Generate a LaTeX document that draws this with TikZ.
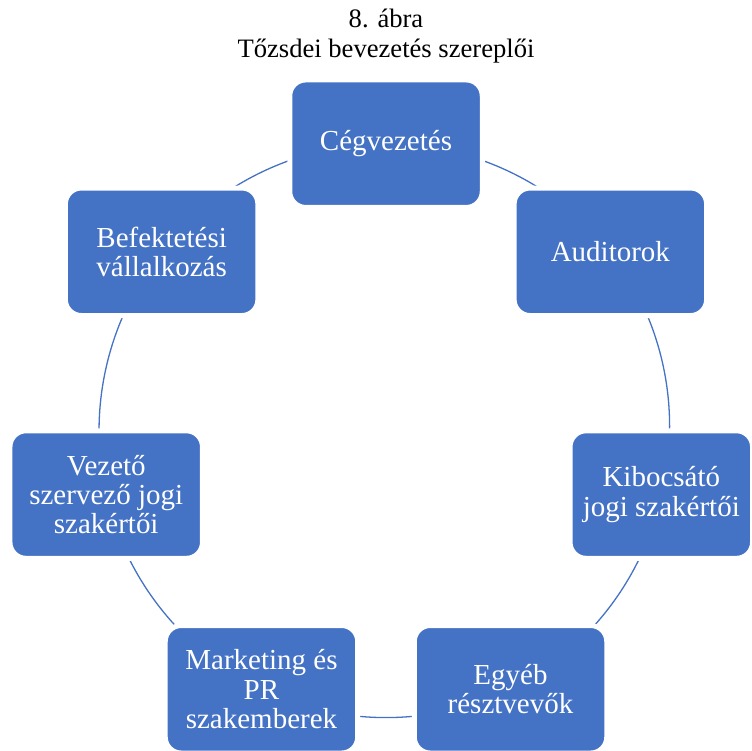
\documentclass[tikz,border=0pt]{standalone}
\usepackage{fontspec}
\setmainfont{Liberation Serif}
\usetikzlibrary{backgrounds}
\definecolor{boxblue}{HTML}{4472C4}
\begin{document}
\begin{tikzpicture}[x=0.5pt,y=-0.5pt,
  role/.style={rectangle, rounded corners=8pt, fill=boxblue, draw=white,
    line width=2.5pt, minimum width=96.25pt, minimum height=63.75pt,
    align=center, text=white, inner sep=1pt,
    font=\fontsize{14.5}{14.7}\selectfont},
  ring/.style={draw=boxblue, line width=0.65pt},
  caption/.style={align=center, font=\fontsize{13.3}{14.6}\selectfont}]
\useasboundingbox (0,0) rectangle (751,751);

% seven points evenly spaced on the ring, clockwise from the top
\foreach \i in {0,...,6}
  \coordinate (p\i) at ({386+287*sin(360/7*\i)}, {430.7-287*cos(360/7*\i)});

\node[caption] (title) at (386,36) {8. ábra\\Tőzsdei bevezetés szereplői};

\node[role] (c0) at (p0) {Cégvezetés};
\node[role] (c1) at (p1) {Auditorok};
\node[role, minimum width=91.25pt, xshift=-2.25pt] (c2) at (p2) {Kibocsátó\\jogi szakértői};
\node[role] (c3) at (p3) {Egyéb\\résztvevők};
\node[role] (c4) at (p4) {Marketing és\\PR\\szakemberek};
\node[role] (c5) at (p5) {Vezető\\szervező jogi\\szakértői};
\node[role] (c6) at (p6) {Befektetési\\vállalkozás};

% ring segments joining neighbouring boxes
\begin{scope}[on background layer]
  \foreach \i/\j in {0/1,1/2,2/3,3/4,4/5,5/6,6/0}
    \draw[ring] (c\i.center) to[bend left=25.714, looseness=0.896] (c\j.center);
\end{scope}
\end{tikzpicture}
\end{document}
